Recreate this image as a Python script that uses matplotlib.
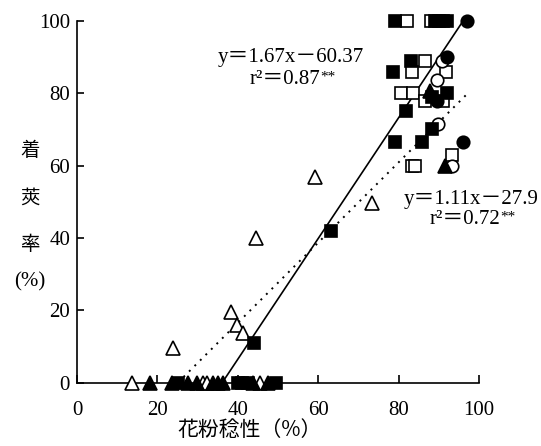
import matplotlib
matplotlib.use("Agg")
import matplotlib.pyplot as plt
import numpy as np

# ---- data ----
fsq_x = [79, 89, 91, 92, 83, 78.6, 92, 88.3, 81.8, 88.3, 79, 85.8, 63.2, 44, 25, 40, 42.5, 49.5]
fsq_y = [100, 100, 100, 100, 89, 86, 80, 79, 75, 70, 66.4, 66.4, 42, 11, 0, 0, 0, 0]

osq_x = [82, 88, 90, 86.6, 83.3, 91.8, 80.6, 83.6, 86.6, 91, 83.3, 84, 93.3, 41]
osq_y = [100, 100, 100, 89, 85.8, 85.8, 80, 80, 78, 78, 60, 60, 62.8, 0]

fci_x = [97, 92, 89.5, 96]
fci_y = [100, 90, 78, 66.4]

oci_x = [90.8, 89.5, 89.8, 93.3]
oci_y = [89, 83.6, 71.4, 59.8]

ftr_x = [87.8, 91.6, 18.2, 23.6, 27.6, 29.8, 33.8, 35, 36.3, 43.8, 47.5]
ftr_y = [80.5, 59.8, 0, 0, 0, 0, 0, 0, 0, 0, 0]

otr_x = [59.2, 73.4, 44.5, 38.3, 39.8, 41.3, 23.9, 13.7, 31.3, 32.3, 45.5]
otr_y = [56.8, 49.6, 39.9, 19.5, 15.9, 13.7, 9.5, 0, 0, 0, 0]

# regression lines: slope, intercept, x-range end
fit1 = (1.67, -60.37, 96.0)   # solid
fit2 = (1.11, -27.9, 97.0)    # dotted

xticks = [0, 20, 40, 60, 80, 100]
yticks = [0, 20, 40, 60, 80, 100]

W, H = 541, 446
fig = plt.figure(figsize=(W / 100, H / 100), dpi=100)
ax = fig.add_axes([77 / W, 1 - 382.5 / H, (479 - 77) / W, (382.5 - 21) / H])

ax.set_xlim(0, 100)
ax.set_ylim(0, 100)
for s in ["top", "right"]:
    ax.spines[s].set_visible(False)
for s in ["left", "bottom"]:
    ax.spines[s].set_linewidth(1.2)

serif = "Liberation Serif"
ax.set_xticks(xticks)
ax.set_yticks(yticks)
ax.set_xticklabels([str(v) for v in xticks], fontfamily=serif, fontsize=15)
ax.set_yticklabels([str(v) for v in yticks], fontfamily=serif, fontsize=15)
ax.tick_params(axis="x", direction="in", length=6, width=1.2, pad=13)
ax.tick_params(axis="y", direction="in", length=5, width=1.2, pad=5)

# regression lines
a, b, xe = fit1
x0 = -b / a
xs = np.array([x0, xe])
ax.plot(xs, a * xs + b, color="black", lw=1.2, zorder=3)
a, b, xe = fit2
x0 = -b / a
xs = np.array([x0, xe])
ax.plot(xs, a * xs + b, color="black", lw=1.4, ls=(0, (1, 3)), zorder=3)

kw = dict(clip_on=False, linestyle="none", markeredgecolor="black", markeredgewidth=1.2)
ax.plot(otr_x, otr_y, marker="^", markersize=10, markerfacecolor="white", zorder=4, **kw)
ax.plot(osq_x, osq_y, marker="s", markersize=8, markerfacecolor="white", zorder=4, **kw)
ax.plot(oci_x, oci_y, marker="o", markersize=9, markerfacecolor="white", zorder=4, **kw)
ax.plot(ftr_x, ftr_y, marker="^", markersize=10, markerfacecolor="black", zorder=5, **kw)
ax.plot(fsq_x, fsq_y, marker="s", markersize=8, markerfacecolor="black", zorder=5, **kw)
ax.plot(fci_x, fci_y, marker="o", markersize=9, markerfacecolor="black", zorder=5, **kw)

fam = [serif, "Noto Sans CJK JP"]


def ftext(px, py, s, **k):
    return fig.text(px / W, 1 - py / H, s, **k)


# equations
ftext(291, 58, "y＝1.67x－60.37", family=fam, fontsize=15, ha="center", va="center")
t = ftext(285, 79, "r²＝0.87", family=fam, fontsize=15, ha="center", va="center")
ax.annotate("**", xy=(1, 1), xycoords=t, xytext=(0, -1), textcoords="offset points",
            ha="left", va="top", family=serif, fontsize=11)

ftext(471, 199, "y＝1.11x－27.9", family=fam, fontsize=15, ha="center", va="center")
t2 = ftext(465, 219, "r²＝0.72", family=fam, fontsize=15, ha="center", va="center")
ax.annotate("**", xy=(1, 1), xycoords=t2, xytext=(0, -1), textcoords="offset points",
            ha="left", va="top", family=serif, fontsize=11)

# axis labels
cjk = ["Noto Sans CJK JP", "DejaVu Sans"]
for ch, py in zip(["着", "莢", "率"], [151, 198, 244]):
    ftext(30, py, ch, family=cjk, fontsize=14, ha="center", va="center")
ftext(30, 282, "(%)", family=[serif], fontsize=15, ha="center", va="center")

ftext(250, 430, "花粉稔性（%）", family=cjk, fontsize=15, ha="center", va="center")

fig.savefig("out.png", dpi=100)
